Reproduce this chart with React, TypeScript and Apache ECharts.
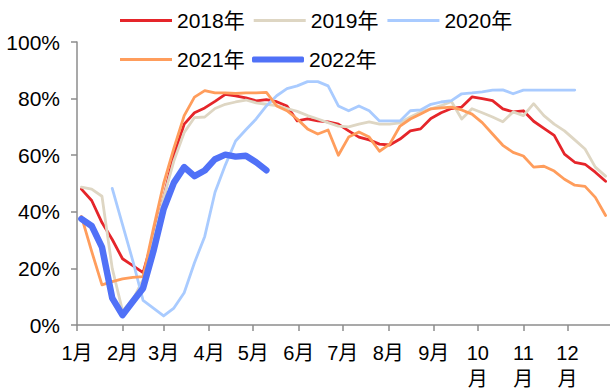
import { useEffect, useRef } from "react";
import * as echarts from "echarts";

// Weekly observation days (day of year, 0 = 1 Jan)
const weekDays = Array.from({ length: 52 }, (_, i) => 3 + 7 * i);

// Month boundaries on the day axis and their labels
const monthStartDays = [0, 31, 59, 90, 120, 151, 181, 212, 243, 273, 304, 334];
const monthLabels = ["1月", "2月", "3月", "4月", "5月", "6月", "7月", "8月", "9月", "10\n月", "11\n月", "12\n月"];

const seriesNames = ["2018年", "2019年", "2020年", "2021年", "2022年"];

const rate2018 = [
  48, 44, 36.2, 30.2, 23.4, 21, 18.5, 31, 45, 60,
  71, 75, 76.7, 79, 81.5, 81, 80.3, 79.2, 79.6, 78.9,
  77.4, 72.1, 72.8, 72.1, 71.8, 71, 68.6, 66.4, 65.4, 63.9,
  63.6, 65.7, 68.6, 69.3, 73, 75, 76.5, 77, 80.6, 80,
  79.3, 76.4, 75.3, 75.7, 72, 69.5, 67, 60.4, 57.5, 56.8,
  54, 50.8,
];

const rate2019 = [
  48.7, 48, 45.5, 20, 5, 9, 16, 30, 45, 58,
  68, 73.3, 73.5, 76.5, 78, 78.8, 79.5, 78.5, 78, 77.5,
  76.5, 75.5, 74, 72.8, 71.5, 70.3, 70, 71, 71.8, 71,
  71, 71.4, 73.5, 75.3, 76.4, 77.5, 79, 72.8, 76.4, 75,
  73.5, 71.8, 75.3, 74, 78.2, 74, 71, 68.6, 65.4, 62.2,
  55.8, 52.6,
];

const rate2020 = [
  null, null, null, 48.3, 35.5, 22.7, 8.7, 6, 3.2, 6,
  11.4, 22, 31.3, 46.9, 56.5, 65, 69, 72.8, 77.4, 81,
  83.5, 84.5, 86, 86, 84.5, 77.4, 75.7, 77.4, 75.7, 72.1,
  72.1, 72.1, 75.7, 76, 78, 78.8, 79.3, 81.7, 82, 82.4,
  83, 83.1, 81.7, 83, 83, 83, 83, 83, 83, null,
  null, null,
];

const rate2021 = [
  38.4, 26, 14.2, 15.3, 16.3, 16.8, 17.1, 34, 50, 62.5,
  74, 80.5, 82.8, 82, 82, 81.8, 82, 82, 82.2, 77.4,
  75.7, 72.8, 69.3, 67.5, 68.9, 60, 66.4, 68.2, 66.4, 61.4,
  63.9, 70.3, 72.8, 74.6, 76.4, 76.7, 77, 76, 74.5, 71.5,
  67.5, 63.5, 61, 59.7, 55.8, 56.1, 54.4, 51.5, 49.4, 49,
  45.1, 38.7,
];

const rate2022 = [
  37.5, 35, 27.5, 9.5, 3.5, 8.3, 13, 26, 41, 50.3,
  55.8, 52.6, 54.6, 58.6, 60.2, 59.5, 59.8, 57.5, 54.7,
];

const seriesValues = [rate2018, rate2019, rate2020, rate2021, rate2022];
const seriesColors = ["#E5252A", "#DED6C3", "#A9CBFF", "#FF9D5C", "#5071F7"];
const seriesWidths = [2.8, 2.8, 2.8, 2.8, 6.5];

const FONT = "'Liberation Sans', Arial, 'Noto Sans CJK SC', sans-serif";

export default function App() {
  const ref = useRef<HTMLDivElement>(null);

  useEffect(() => {
    if (!ref.current) return;
    const chart = echarts.init(ref.current, null, { renderer: "svg" });

    const series = seriesNames.map((name, k) => ({
      name,
      type: "line",
      symbol: "none",
      z: 2 + k,
      data: seriesValues[k]
        .map((v, i) => (v == null ? null : [weekDays[i], v]))
        .filter((p) => p !== null),
      lineStyle: {
        color: seriesColors[k],
        width: seriesWidths[k],
        cap: "round",
        join: "round",
      },
      itemStyle: { color: seriesColors[k] },
      emphasis: { disabled: true },
    }));

    const legendText = { fontFamily: FONT, fontSize: 21, color: "#000" };
    const legendBase = {
      itemWidth: 52,
      itemGap: 9,
      selectedMode: false,
      textStyle: legendText,
    };

    chart.setOption({
      animation: false,
      textStyle: { fontFamily: FONT },
      legend: [
        {
          ...legendBase,
          left: 115,
          top: 5,
          itemHeight: 3,
          icon: "rect",
          data: ["2018年", "2019年", "2020年"],
        },
        {
          ...legendBase,
          left: 115,
          top: 44,
          itemHeight: 3,
          icon: "rect",
          data: ["2021年"],
        },
        {
          ...legendBase,
          left: 247,
          top: 44,
          itemHeight: 6,
          icon: "roundRect",
          data: ["2022年"],
        },
      ],
      grid: { left: 77, right: 0, top: 42, bottom: 67, containLabel: false },
      xAxis: {
        type: "value",
        min: 0,
        max: 363,
        splitLine: { show: false },
        axisLine: { show: true, lineStyle: { color: "#8C8C8C", width: 1.5 } },
        axisTick: {
          show: true,
          inside: false,
          length: 6,
          customValues: monthStartDays,
          lineStyle: { color: "#8C8C8C", width: 1.5 },
        },
        axisLabel: {
          customValues: monthStartDays,
          formatter: (v: number) => {
            const idx = monthStartDays.indexOf(Math.round(v));
            return idx >= 0 ? monthLabels[idx] : "";
          },
          fontFamily: FONT,
          fontSize: 20,
          lineHeight: 26,
          color: "#000",
          margin: 15,
          verticalAlign: "top",
        },
      },
      yAxis: {
        type: "value",
        min: 0,
        max: 100,
        interval: 20,
        splitLine: { show: false },
        axisLine: { show: true, lineStyle: { color: "#8C8C8C", width: 1.5 } },
        axisTick: {
          show: true,
          inside: false,
          length: 6,
          lineStyle: { color: "#8C8C8C", width: 1.5 },
        },
        axisLabel: {
          formatter: "{value}%",
          fontFamily: FONT,
          fontSize: 21,
          color: "#000",
          margin: 17,
        },
      },
      series,
    });

    return () => chart.dispose();
  }, []);

  return (
    <div
      ref={ref}
      style={{ position: "fixed", left: 0, top: 0, width: 610, height: 392, background: "#fff" }}
    />
  );
}
